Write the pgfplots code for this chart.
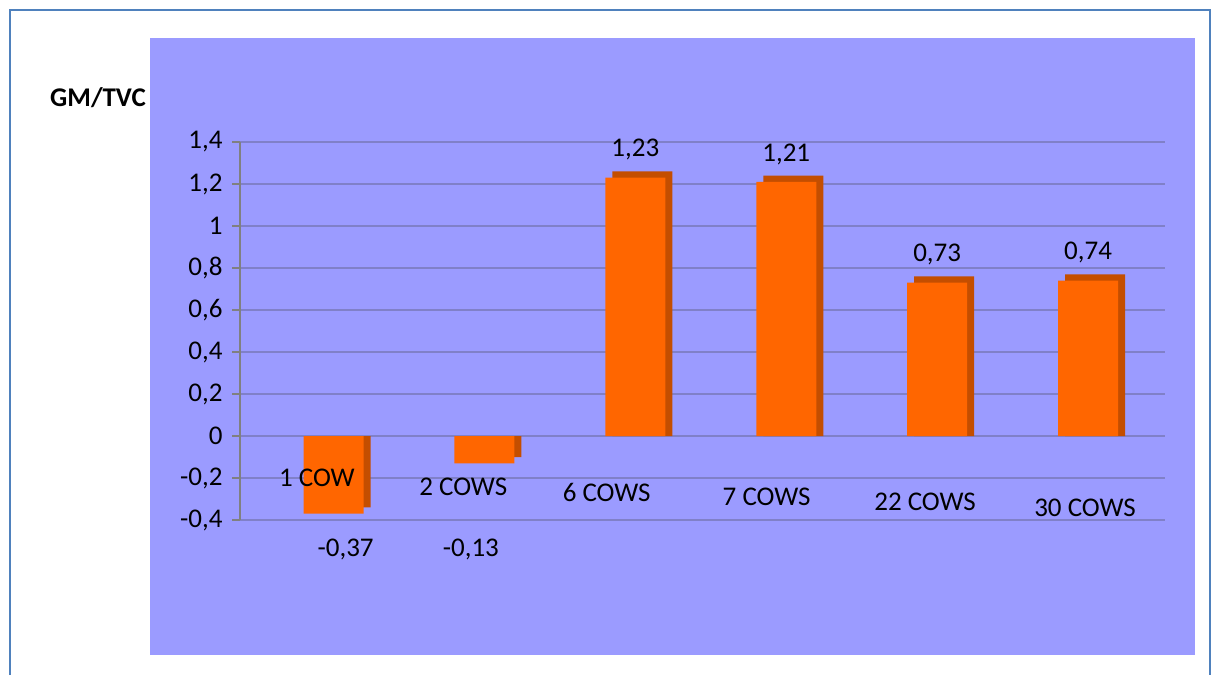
\documentclass[border=0pt]{standalone}
\usepackage{fontspec}
\setmainfont{Carlito}
\usepackage{pgfplots}
\pgfplotsset{compat=1.18}
\definecolor{bg}{RGB}{155,155,255}
\definecolor{barfront}{RGB}{255,102,0}
\definecolor{barside}{RGB}{196,78,0}
\definecolor{framec}{RGB}{79,129,189}
\definecolor{gridc}{RGB}{128,128,200}
\begin{document}
\fontsize{13.5}{16}\selectfont
\begin{tikzpicture}[font=\fontsize{13.5}{16}\selectfont]
\path[use as bounding box] (0,0) rectangle (609pt,337.5pt);
\fill[white] (0,0) rectangle (609pt,337.5pt);
\draw[framec, line width=1pt] (5pt,0) -- (5pt,332.5pt) -- (605pt,332.5pt) -- (605pt,0);
\fill[bg] (75pt,10pt) rectangle (597.5pt,318.5pt);
\node[font=\bfseries\fontsize{13.5}{16}\selectfont] at (49pt,288.5pt) {GM/TVC};
\begin{axis}[
  at={(120pt,77.5pt)}, anchor=south west,
  scale only axis, width=462.5pt, height=189pt,
  xmin=-0.62, xmax=5.51, ymin=-0.4, ymax=1.4,
  ytick={-0.4,-0.2,0,0.2,0.4,0.6,0.8,1,1.2,1.4},
  /pgf/number format/assume math mode=true,
  /pgf/number format/use comma,
  /pgf/number format/fixed,
  hide x axis,
  axis y line*=left,
  y axis line style={gray, line width=0.8pt},
  ymajorgrids, grid style={gridc, line width=0.8pt},
  tick align=outside, major tick length=4pt, ytick style={gray, line width=0.8pt},
  yticklabel style={xshift=0pt},
  clip=false,
]
\addplot[ybar, bar width=30pt, bar shift=3.5pt, fill=barside, draw=none]
  coordinates {(0,-0.34) (1,-0.10) (2,1.26) (3,1.24) (4,0.76) (5,0.77)};
\addplot[ybar, bar width=30pt, bar shift=0pt, fill=barfront, draw=none]
  coordinates {(0,-0.37) (1,-0.13)};
\addplot[ybar, bar width=30pt, bar shift=0pt, fill=barfront, draw=none,
  nodes near coords={\pgfmathprintnumber[fixed,precision=2,use comma]{\pgfplotspointmeta}},
  every node near coord/.append style={yshift=4pt, text=black}]
  coordinates {(2,1.23) (3,1.21) (4,0.73) (5,0.74)};
\addplot[draw=none, mark=none, nodes near coords, point meta=explicit symbolic,
  every node near coord/.append style={anchor=center, text=black}]
  coordinates {(0.08,-0.54) [-0,37] (0.91,-0.54) [-0,13]};
\addplot[draw=none, mark=none, nodes near coords, point meta=explicit symbolic,
  every node near coord/.append style={anchor=center, text=black}]
  coordinates {(-0.11,-0.2) [1 COW] (0.86,-0.243) [2 COWS] (1.81,-0.267) [6 COWS]
               (2.87,-0.29) [7 COWS] (3.92,-0.314) [22 COWS] (4.98,-0.343) [30 COWS]};
\end{axis}
\end{tikzpicture}
\end{document}
